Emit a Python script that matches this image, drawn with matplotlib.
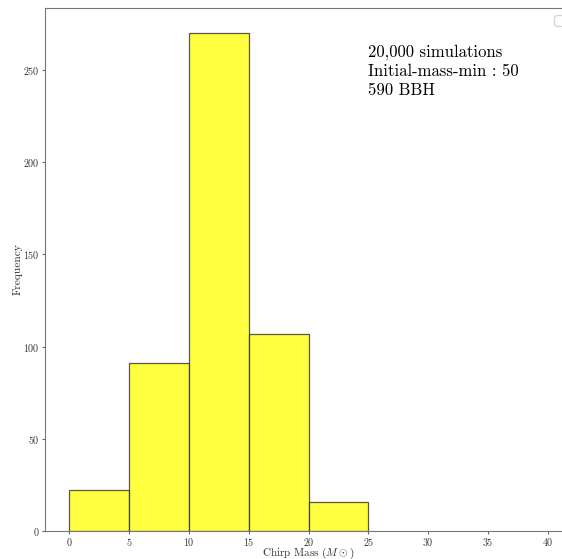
import matplotlib
matplotlib.use("Agg")
import matplotlib.pyplot as plt

plt.rcParams["font.family"] = "serif"
plt.rcParams["font.serif"] = ["cmr10"]
plt.rcParams["mathtext.fontset"] = "cm"
plt.rcParams["axes.unicode_minus"] = False
plt.rcParams["axes.formatter.use_mathtext"] = True

# histogram data
bin_edges = [0, 5, 10, 15, 20, 25]
counts = [22, 91, 270, 107, 16]
bin_centers = [(a + b) / 2 for a, b in zip(bin_edges[:-1], bin_edges[1:])]
x_ticks = [0, 5, 10, 15, 20, 25, 30, 35, 40]
y_ticks = [0, 50, 100, 150, 200, 250]
note = "20,000 simulations\nInitial-mass-min : 50\n590 BBH"

fig = plt.figure(figsize=(5.62, 5.59), dpi=100)
ax = fig.add_axes([45 / 562, 0.05, (572 - 45) / 562, 0.9356])

ax.hist(bin_centers, bins=bin_edges, weights=counts, color="yellow",
        edgecolor="#222222", alpha=0.75, linewidth=0.9)

ax.set_xlim(-2, 42)
ax.set_ylim(0, 283.5)
ax.set_xticks(x_ticks)
ax.set_yticks(y_ticks)
ax.tick_params(labelsize=7.2, colors="#666666", labelcolor="#333333",
               length=2, pad=1.8)
for s in ax.spines.values():
    s.set_color("#777777")

ax.set_xlabel(r"Chirp Mass ($M\odot$)", fontsize=8, color="#333333")
ax.set_ylabel("Frequency", fontsize=8.2, color="#333333")
ax.xaxis.set_label_coords(0.5, -0.0288)
ax.yaxis.set_label_coords(-0.043, 0.5)

ax.text(0.613, 0.931, note, transform=ax.transAxes, fontsize=12,
        va="top", ha="left", linespacing=1.32)
ax.legend(handles=[], loc="upper right")

fig.savefig("out.png", dpi=100)
